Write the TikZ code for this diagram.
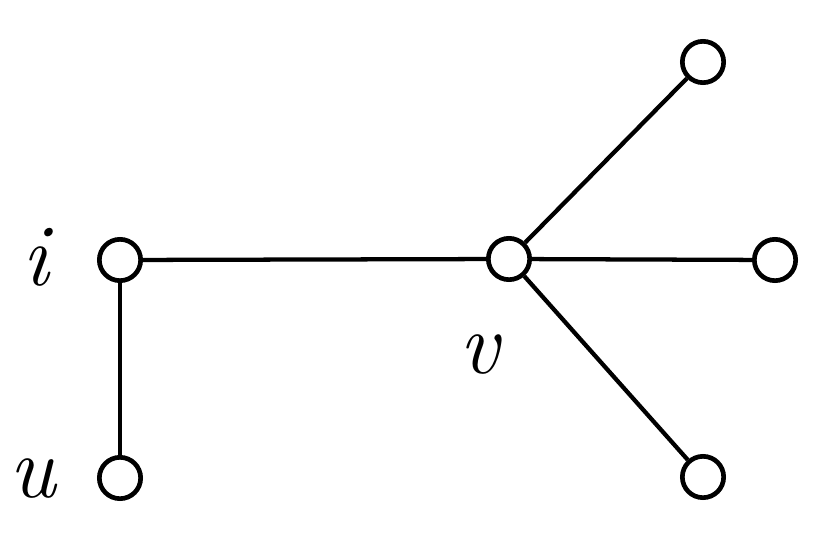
\documentclass[tikz,border=0pt]{standalone}
\usepackage{fontspec}
\begin{document}
\begin{tikzpicture}[x=0.75pt,y=-0.75pt,
  vert/.style={circle,draw,line width=3.5pt,minimum size=31pt,inner sep=0pt,fill=white},
  edge/.style={line width=3.2pt},
  lab/.style={anchor=base,inner sep=0pt,font=\fontsize{66}{66}\selectfont\itshape}]
\useasboundingbox (0,0) rectangle (827,542);
\node[vert] (i) at (120,260) {};
\node[vert] (u) at (120,478) {};
\node[vert] (v) at (509,259) {};
\node[vert] (t) at (703,62) {};
\node[vert] (r) at (775,260) {};
\node[vert] (b) at (703,477) {};
\draw[edge] (i) -- (u);
\draw[edge] (i) -- (v);
\draw[edge] (v) -- (t);
\draw[edge] (v) -- (r);
\draw[edge] (v) -- (b);
\node[lab] (li) at (36,285) {i};
\node[lab] (lu) at (33,497) {u};
\node[lab] (lv) at (479,373) {v};
\end{tikzpicture}
\end{document}
